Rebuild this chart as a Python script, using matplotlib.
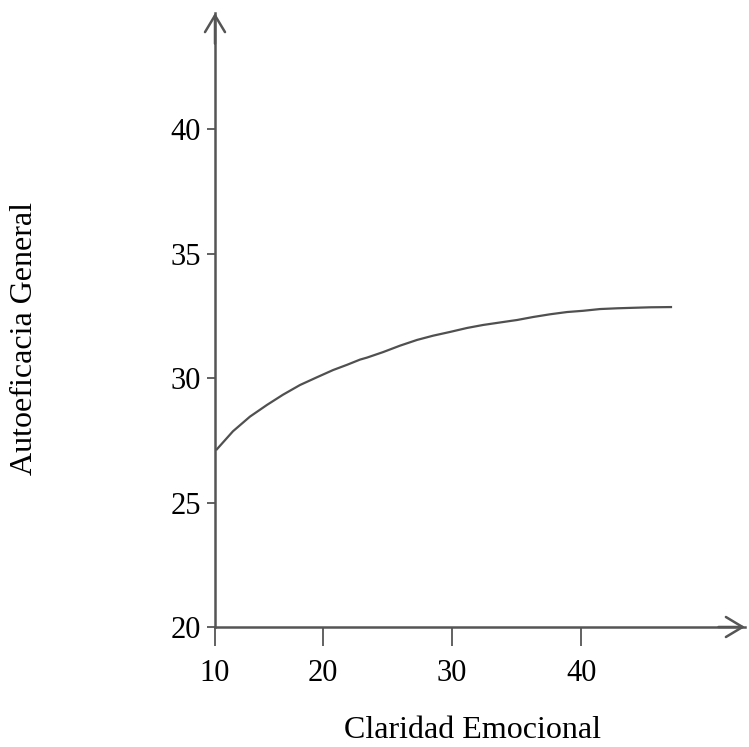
import matplotlib
matplotlib.use("Agg")
import matplotlib.pyplot as plt

# Data
claridad = [11.71, 13.02, 14.34, 15.66, 16.90, 18.22, 19.53, 20.78, 21.86, 22.87, 23.41,
            24.65, 25.97, 27.29, 28.53, 29.84, 31.16, 32.40, 34.50, 35.04, 36.28, 37.60,
            38.91, 40.16, 41.47, 42.79, 44.03, 45.35, 47.05]
autoeficacia = [27.10, 27.86, 28.45, 28.92, 29.33, 29.72, 30.03, 30.32, 30.53, 30.74, 30.82,
                31.04, 31.30, 31.53, 31.70, 31.85, 32.01, 32.13, 32.29, 32.33, 32.45, 32.56,
                32.65, 32.70, 32.77, 32.80, 32.82, 32.84, 32.85]

x_tick_pos = [11.63, 20, 30, 40]
x_tick_labels = ["10", "20", "30", "40"]
y_ticks = [20, 25, 30, 35, 40]
y_tick_labels = ["20", "25", "30", "35", "40"]

x_label = "Claridad Emocional"
y_label = "Autoeficacia General"

plt.rcParams['font.family'] = ['Liberation Serif', 'DejaVu Serif']
col = "#555555"

W, H = 749, 747
fig = plt.figure(figsize=(W / 100, H / 100), dpi=100)
left, right, bottom, top = 215, 745, 627, 13
ax = fig.add_axes([left / W, (H - bottom) / H, (right - left) / W, (bottom - top) / H])

ax.plot(claridad, autoeficacia, color="#505050", lw=1.6, solid_capstyle='butt',
        solid_joinstyle='round')

ax.set_xlim(11.63, 52.7)
ax.set_ylim(20, 44.66)

ax.spines['top'].set_visible(False)
ax.spines['right'].set_visible(False)
for s in ['left', 'bottom']:
    ax.spines[s].set_color(col)
    ax.spines[s].set_linewidth(1.8)

ax.set_xticks(x_tick_pos)
ax.set_xticklabels(x_tick_labels)
ax.set_yticks(y_ticks)
ax.set_yticklabels(y_tick_labels)
ax.tick_params(axis='x', length=14, width=1.3, color=col, pad=9, labelsize=22, labelcolor='black')
ax.tick_params(axis='y', length=6, width=1.3, color=col, pad=4, labelsize=22, labelcolor='black')

# arrow heads
for xy, xytext in [((1.0, 0), (0.95, 0)), ((0, 1.0), (0, 0.95))]:
    ax.annotate('', xy=xy, xytext=xytext, xycoords='axes fraction',
                arrowprops=dict(arrowstyle='->,head_length=0.6,head_width=0.36', color=col,
                                lw=1.8, mutation_scale=20, shrinkA=0, shrinkB=0),
                annotation_clip=False)

fig.text(472 / W, 1 - 730 / H, x_label, ha='center', va='center', fontsize=23)
fig.text(25 / W, 1 - 338 / H, y_label, ha='center', va='center', fontsize=23, rotation=90)

fig.savefig("out.png", dpi=100)
